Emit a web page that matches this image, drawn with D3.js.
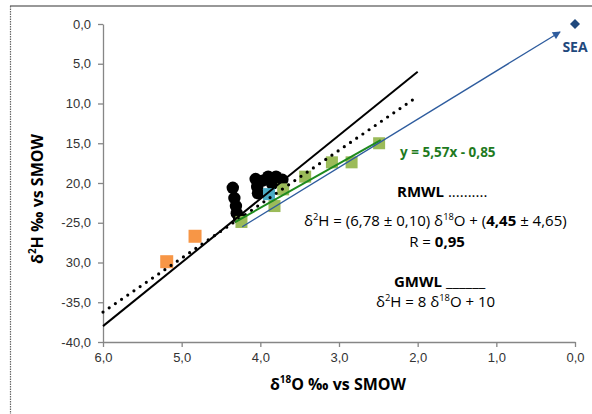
<!DOCTYPE html>
<html>
<head>
<meta charset="utf-8">
<script src="https://cdn.jsdelivr.net/npm/d3@7"></script>
<style>
  body { margin: 0; background: #fff; }
  svg { display: block; font-family: "Open Sans", "Liberation Sans", Arial, sans-serif; }
</style>
</head>
<body>
<svg id="chart" width="592" height="414"></svg>
<script>
// ---- data (d18O, d2H) ----
const xTicks = [-6, -5, -4, -3, -2, -1, 0];
const xTickLabels = ["6,0", "5,0", "4,0", "3,0", "2,0", "1,0", "0,0"];
const yTicks = [0, -5, -10, -15, -20, -25, -30, -35, -40];
const yTickLabels = ["0,0", "5,0", "10,0", "15,0", "20,0", "-25,0", "30,0", "-35,0", "-40,0"];

// black circles
const circleX = [-4.35, -4.33, -4.31, -4.30, -4.27, -4.06, -4.04, -4.03, -3.97, -3.90, -3.80, -3.72, -3.85];
const circleY = [-20.6, -21.9, -22.9, -23.8, -24.4, -19.5, -20.5, -21.3, -19.7, -19.2, -19.2, -19.6, -20.1];

// green squares
const greenX = [-4.24, -3.82, -3.71, -3.43, -3.09, -2.84, -2.49];
const greenY = [-24.9, -22.9, -20.8, -19.2, -17.4, -17.4, -15.0];

// orange squares
const orangeX = [-5.19, -4.83];
const orangeY = [-29.9, -26.7];

// cyan square
const cyanX = [-3.89];
const cyanY = [-21.4];

// sea water
const seaX = [0];
const seaY = [0];

// lines
const gmwl = { slope: 8, intercept: 10, from: -6, to: -2 };
const rmwl = { slope: 6.78, intercept: 4.45, from: -6, to: -2 };
const trend = { slope: 5.57, intercept: -0.85, from: -4.32, to: -2.47 };
const evapX = [-4.23, -0.19];
const evapY = [-25.5, -1.0];

const svg = d3.select("#chart");

const x = d3.scaleLinear().domain([-6, 0]).range([103, 575]);
const y = d3.scaleLinear().domain([-40, 0]).range([342, 24]);

// outer frame
svg.append("line").attr("x1", 10).attr("y1", 6).attr("x2", 592).attr("y2", 6)
  .attr("stroke", "#333").attr("stroke-width", 1.2);
svg.append("line").attr("x1", 10.5).attr("y1", 6).attr("x2", 10.5).attr("y2", 414)
  .attr("stroke", "#666").attr("stroke-width", 1.2).attr("stroke-dasharray", "1.5 1");

// axes
const axisColor = "#868686";
const yAxis = svg.append("g")
  .attr("transform", `translate(${x(-6)},0)`)
  .call(d3.axisLeft(y).tickValues(yTicks).tickFormat((d, i) => yTickLabels[i])
    .tickSize(5).tickSizeOuter(0).tickPadding(7));
const xAxis = svg.append("g")
  .attr("transform", `translate(0,${y(-40)})`)
  .call(d3.axisBottom(x).tickValues(xTicks).tickFormat((d, i) => xTickLabels[i])
    .tickSize(5).tickSizeOuter(0).tickPadding(6));
[xAxis, yAxis].forEach(g => {
  g.select(".domain").attr("stroke", axisColor).attr("stroke-width", 1.3);
  g.selectAll(".tick line").attr("stroke", axisColor).attr("stroke-width", 1.3);
  g.selectAll(".tick text").attr("fill", "#333").style("font-size", "13px")
    .style("font-family", "'Liberation Sans', Arial, sans-serif");
});

// markers
const zip = (a, b) => a.map((v, i) => [v, b[i]]);

svg.append("g").selectAll("circle").data(zip(circleX, circleY)).join("circle")
  .attr("cx", d => x(d[0])).attr("cy", d => y(d[1])).attr("r", 6.2).attr("fill", "#000");

function squares(data, fill, size) {
  svg.append("g").selectAll("rect").data(data).join("rect")
    .attr("x", d => x(d[0]) - size / 2).attr("y", d => y(d[1]) - size / 2)
    .attr("width", size).attr("height", size).attr("fill", fill);
}
squares(zip(greenX, greenY), "#9BBB59", 12);
squares(zip(orangeX, orangeY), "#F79646", 13);
squares(zip(cyanX, cyanY), "#4BACC6", 12);

// sea point: square turned 45 degrees
svg.append("g").selectAll("path").data(zip(seaX, seaY)).join("path")
  .attr("transform", d => `translate(${x(d[0])},${y(d[1])}) rotate(45)`)
  .attr("d", d3.symbol(d3.symbolSquare, 50)).attr("fill", "#1F497D");

// lines
function lineOf(l) {
  return [[l.from, l.slope * l.from + l.intercept], [l.to, l.slope * l.to + l.intercept]];
}
const line = d3.line().x(d => x(d[0])).y(d => y(d[1]));

svg.append("path").attr("d", line(lineOf(gmwl)))
  .attr("stroke", "#000").attr("stroke-width", 2).attr("fill", "none");
svg.append("path").attr("d", line(lineOf(rmwl)))
  .attr("stroke", "#000").attr("stroke-width", 3.2).attr("fill", "none")
  .attr("stroke-linecap", "round").attr("stroke-dasharray", "0 7.5");
svg.append("path").attr("d", line(lineOf(trend)))
  .attr("stroke", "#1E8A1E").attr("stroke-width", 2).attr("fill", "none");

svg.append("defs").append("marker")
  .attr("id", "arrow").attr("viewBox", "0 0 10 10").attr("refX", 9).attr("refY", 5)
  .attr("markerWidth", 10).attr("markerHeight", 8).attr("markerUnits", "userSpaceOnUse")
  .attr("orient", "auto")
  .append("path").attr("d", "M0,0 L10,5 L0,10 Z").attr("fill", "#2E5C9E");
svg.append("path").attr("d", line(zip(evapX, evapY)))
  .attr("stroke", "#2E5C9E").attr("stroke-width", 1.3).attr("fill", "none")
  .attr("marker-end", "url(#arrow)");

// texts
svg.append("text").attr("x", x(0)).attr("y", 52).attr("text-anchor", "middle")
  .attr("fill", "#1F497D").style("font-weight", "bold").style("font-size", "14px").text("SEA");

svg.append("text").attr("x", 400).attr("y", 157)
  .attr("fill", "#1E7A1E").style("font-weight", "bold").style("font-size", "13.5px")
  .text("y = 5,57x - 0,85");

function richText(xp, yp, parts, size, anchor) {
  const t = svg.append("text").attr("x", xp).attr("y", yp).attr("fill", "#000")
    .attr("text-anchor", anchor || "start").style("font-size", size + "px");
  parts.forEach(p => {
    const s = t.append("tspan").text(p.t);
    if (p.b) s.style("font-weight", "bold");
    if (p.sup) s.attr("baseline-shift", "super").style("font-size", (size * 0.62) + "px");
  });
  return t;
}

richText(397, 197, [{ t: "RMWL", b: true }, { t: " .........." }], 15);
richText(304, 226, [
  { t: "δ" }, { t: "2", sup: true }, { t: "H = (6,78 ± 0,10) δ" }, { t: "18", sup: true },
  { t: "O + (" }, { t: "4,45", b: true }, { t: " ± 4,65)" }], 15);
richText(437, 247, [{ t: "R = " }, { t: "0,95", b: true }], 15, "middle");
richText(394, 287, [{ t: "GMWL", b: true }, { t: " ______" }], 15);
richText(376, 307, [
  { t: "δ" }, { t: "2", sup: true }, { t: "H = 8 δ" }, { t: "18", sup: true }, { t: "O + 10" }], 15);

// axis titles
richText(338, 390, [{ t: "δ" }, { t: "18", sup: true }, { t: "O ‰ vs SMOW" }], 16, "middle")
  .style("font-weight", "bold");
richText(0, 0, [{ t: "δ" }, { t: "2", sup: true }, { t: "H ‰ vs SMOW" }], 16, "middle")
  .style("font-weight", "bold")
  .attr("transform", "translate(43,199) rotate(-90)");
</script>
</body>
</html>
